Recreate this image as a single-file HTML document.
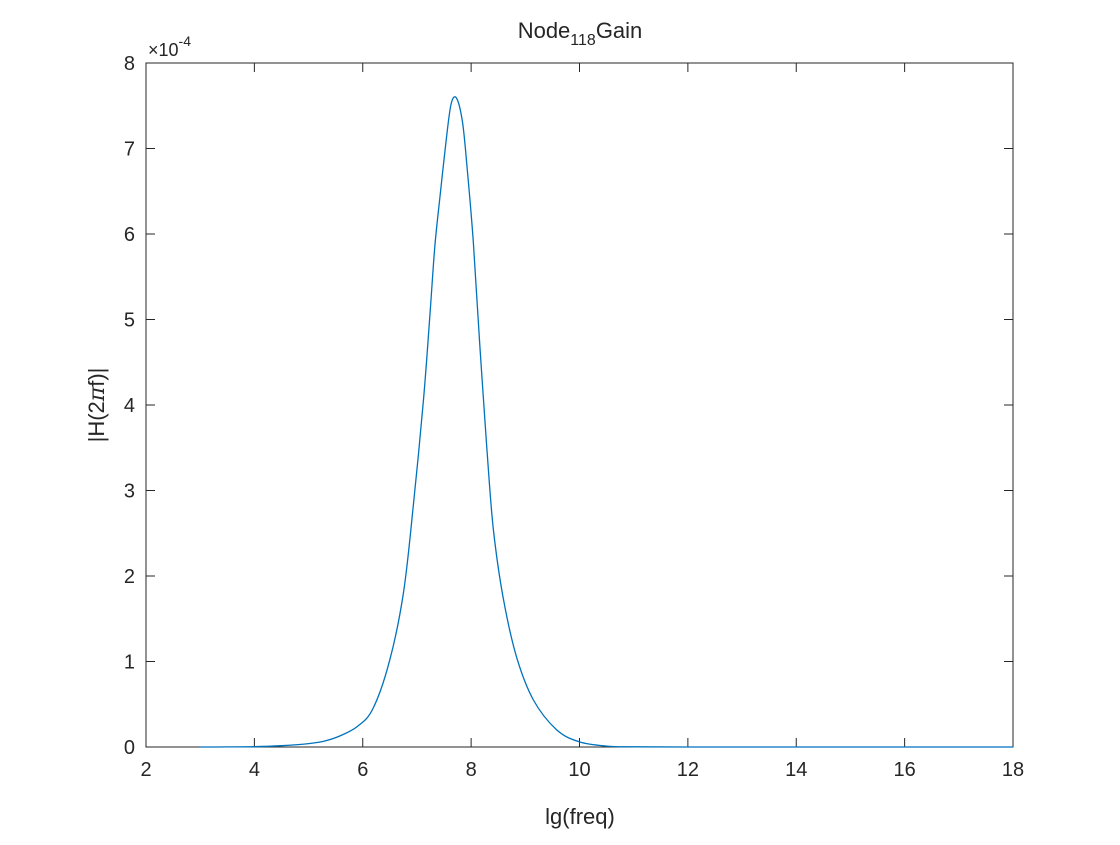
<!DOCTYPE html>
<html><head><meta charset="utf-8"><style>
body{margin:0;background:#fff;font-family:"Liberation Sans",Arial,sans-serif}
svg text{font-family:"Liberation Sans",Arial,sans-serif;fill:#262626}
</style></head><body>
<svg id="chart" width="1120" height="840" viewBox="0 0 1120 840" xmlns="http://www.w3.org/2000/svg">
<rect width="1120" height="840" fill="#fff"/>
<text x="580" y="38" font-size="22" text-anchor="middle">Node<tspan font-size="16" dy="7">118</tspan><tspan dy="-7">Gain</tspan></text>
<text x="148" y="56" font-size="18">×10<tspan font-size="14" dy="-10">-4</tspan></text>
<text x="580" y="824" font-size="22" text-anchor="middle">lg(freq)</text>
<text transform="translate(104,405) rotate(-90)" font-size="22" text-anchor="middle">|H(2<tspan font-family="DejaVu Serif" font-style="italic">π</tspan>f)|</text>
<g id="axes"></g>
<path id="line" fill="none" stroke="#0072BD" stroke-width="1.3"/>
</svg>
<script>
const xVals=[3,3.5,4,4.5,5,5.3,5.58,5.9,6.19,6.5,6.75,6.93,7.12,7.24,7.33,7.43,7.54,7.63,7.73,7.84,7.93,8.04,8.16,8.29,8.41,8.59,8.84,9.15,9.58,10.0,10.5,11,12,14,16,18];
const yVals=[0,0.001,0.004,0.015,0.04,0.07,0.13,0.24,0.45,1.02,1.80,2.80,4.05,5.05,5.85,6.46,7.10,7.52,7.59,7.31,6.75,5.91,4.70,3.50,2.55,1.75,1.05,0.55,0.20,0.06,0.01,0.002,0,0,0,0];
const xTicks=[2,4,6,8,10,12,14,16,18];
const yTicks=[0,1,2,3,4,5,6,7,8];
const L=146,R=1013,T=63,B=747;
const xs=v=>L+(v-2)/16*(R-L);
const ys=v=>B-v/8*(B-T);
const NS="http://www.w3.org/2000/svg";
const ax=document.getElementById('axes');
function mk(t,a){const e=document.createElementNS(NS,t);for(const k in a)e.setAttribute(k,a[k]);ax.appendChild(e);return e;}
const box=mk('rect',{x:L,y:T,width:R-L,height:B-T,fill:'none',stroke:'#262626','stroke-width':1});


xTicks.forEach(v=>{const x=xs(v);
 const t1=mk('line',{x1:x,x2:x,y1:B,y2:B-9,stroke:'#262626'});
 
 
 const t2=mk('line',{x1:x,x2:x,y1:T,y2:T+9,stroke:'#262626'});
 
 
 const lb=mk('text',{x:x,y:B+29,'font-size':20,'text-anchor':'middle'});lb.textContent=v;
 
 
});
yTicks.forEach(v=>{const y=ys(v);
 const t1=mk('line',{x1:L,x2:L+9,y1:y,y2:y,stroke:'#262626'});
 
 
 const t2=mk('line',{x1:R,x2:R-9,y1:y,y2:y,stroke:'#262626'});
 
 
 const lb=mk('text',{x:L-11,y:y+7,'font-size':20,'text-anchor':'end'});lb.textContent=v;
 
 
});
const P=xVals.map((x,i)=>[xs(x),ys(yVals[i])]);
let d='M'+P[0][0].toFixed(1)+','+P[0][1].toFixed(1);
for(let i=0;i<P.length-1;i++){
 const p0=P[Math.max(0,i-1)],p1=P[i],p2=P[i+1],p3=P[Math.min(P.length-1,i+2)];
 let c1=[p1[0]+(p2[0]-p0[0])/6,p1[1]+(p2[1]-p0[1])/6];
 let c2=[p2[0]-(p3[0]-p1[0])/6,p2[1]-(p3[1]-p1[1])/6];
 c1[1]=Math.min(B,c1[1]);c2[1]=Math.min(B,c2[1]);
 d+='C'+c1[0].toFixed(1)+','+c1[1].toFixed(1)+' '+c2[0].toFixed(1)+','+c2[1].toFixed(1)+' '+p2[0].toFixed(1)+','+p2[1].toFixed(1);
}
document.getElementById('line').setAttribute('d',d);
</script>
</body></html>
